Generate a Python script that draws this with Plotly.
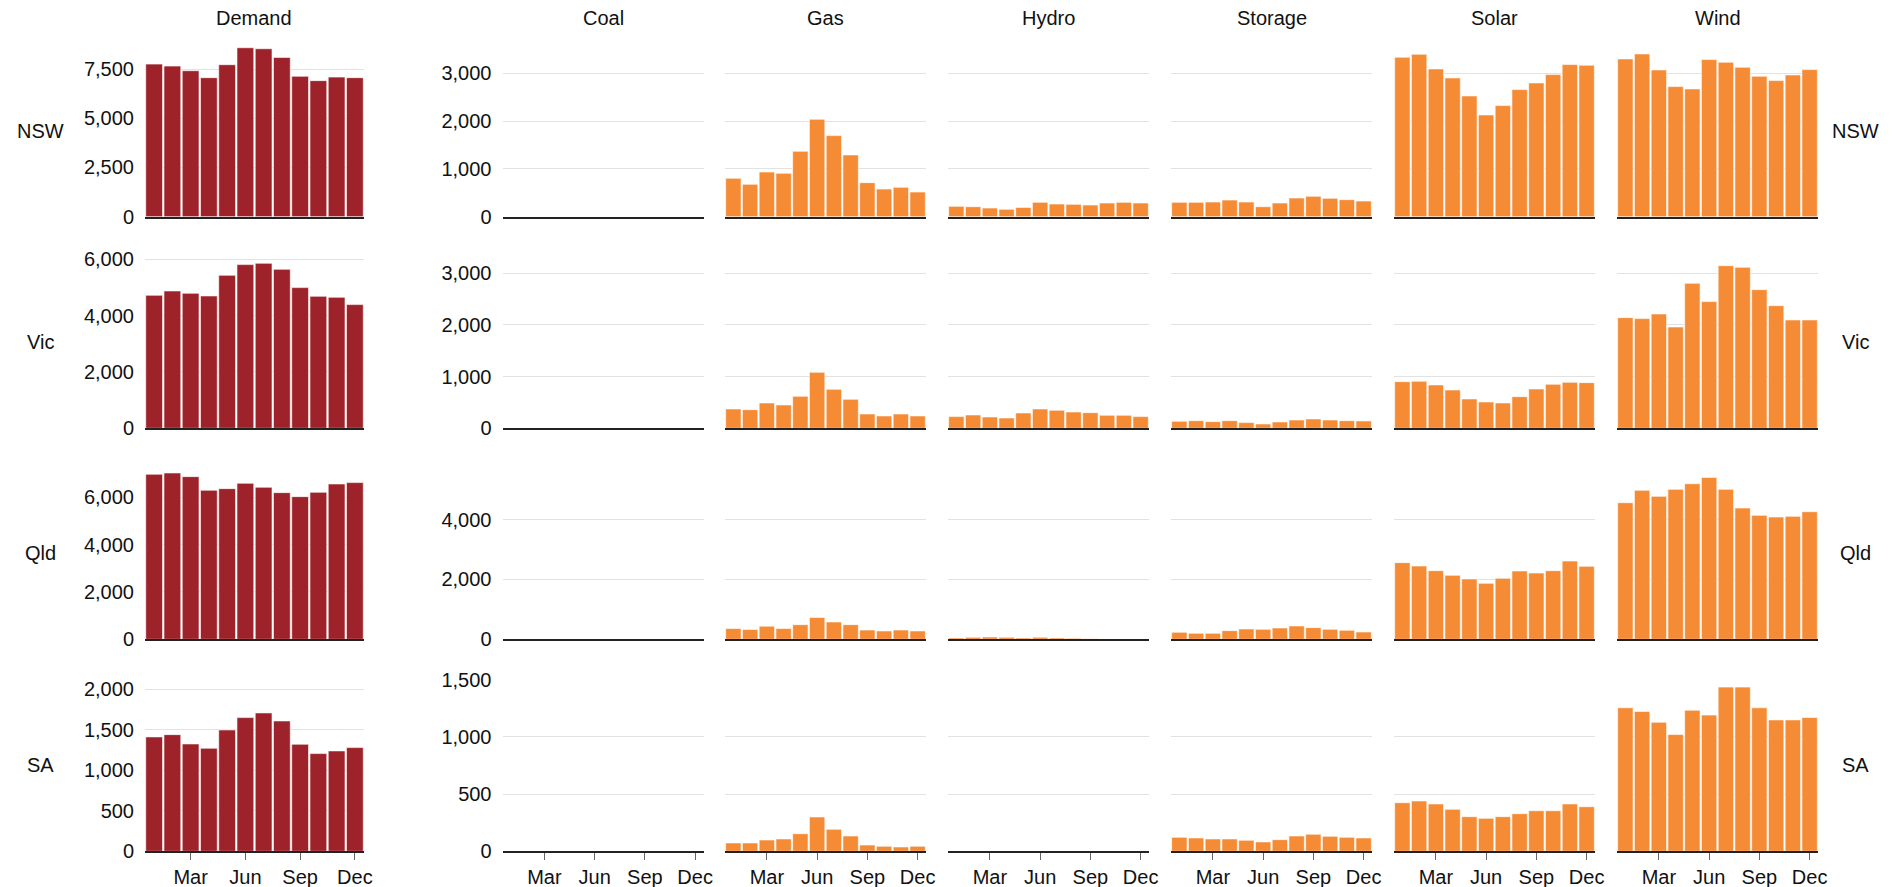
import plotly.graph_objects as go

months = ["Jan", "Feb", "Mar", "Apr", "May", "Jun", "Jul", "Aug", "Sep", "Oct", "Nov", "Dec"]
month_ticks = ["Mar", "Jun", "Sep", "Dec"]
regions = ["NSW", "Vic", "Qld", "SA"]
columns = ["Demand", "Coal", "Gas", "Hydro", "Storage", "Solar", "Wind"]

# ---- NSW ----
nsw_demand = [7750, 7650, 7415, 7060, 7720, 8580, 8530, 8090, 7130, 6910, 7090, 7060]
nsw_coal = [0] * 12
nsw_gas = [803, 677, 935, 907, 1368, 2038, 1696, 1291, 712, 579, 614, 516]
nsw_hydro = [216, 209, 181, 154, 195, 300, 265, 258, 244, 286, 300, 286]
nsw_storage = [300, 300, 307, 349, 307, 209, 286, 391, 426, 384, 356, 328]
nsw_solar = [3336, 3398, 3091, 2903, 2526, 2128, 2324, 2659, 2798, 2973, 3182, 3168]
nsw_wind = [3301, 3405, 3070, 2722, 2673, 3287, 3231, 3126, 2938, 2847, 2966, 3077]

# ---- Vic ----
vic_demand = [4722, 4876, 4793, 4698, 5432, 5811, 5858, 5645, 4994, 4686, 4651, 4391]
vic_coal = [0] * 12
vic_gas = [374, 361, 490, 452, 619, 1084, 755, 561, 277, 239, 277, 239]
vic_hydro = [226, 258, 219, 200, 297, 374, 348, 316, 303, 252, 252, 226]
vic_storage = [135, 148, 129, 148, 110, 84, 123, 161, 181, 161, 148, 142]
vic_solar = [903, 910, 839, 742, 568, 510, 490, 613, 761, 852, 890, 884]
vic_wind = [2142, 2123, 2213, 1961, 2806, 2452, 3148, 3116, 2684, 2374, 2097, 2097]

# ---- Qld ----
qld_demand = [6972, 7028, 6873, 6296, 6366, 6592, 6423, 6197, 6028, 6211, 6563, 6620]
qld_coal = [0] * 12
qld_gas = [360, 330, 440, 360, 490, 730, 580, 490, 310, 280, 310, 280]
qld_hydro = [45, 67, 78, 67, 45, 67, 45, 33, 22, 10, 10, 10]
qld_storage = [234, 201, 201, 290, 345, 334, 379, 446, 390, 334, 301, 245]
qld_solar = [2563, 2451, 2295, 2139, 2017, 1872, 2039, 2284, 2217, 2295, 2618, 2440]
qld_wind = [4568, 4981, 4780, 5014, 5203, 5415, 5014, 4390, 4145, 4089, 4111, 4267]

# ---- SA ----
sa_demand = [1412, 1440, 1325, 1272, 1498, 1650, 1708, 1609, 1321, 1206, 1239, 1280]
sa_coal = [0] * 12
sa_gas = [73, 73, 99, 108, 154, 300, 192, 134, 55, 44, 38, 44]
sa_hydro = [0] * 12
sa_storage = [122, 117, 108, 108, 96, 82, 102, 134, 149, 131, 122, 117]
sa_solar = [425, 440, 414, 367, 303, 288, 303, 329, 355, 355, 414, 390]
sa_wind = [1255, 1223, 1128, 1021, 1234, 1191, 1436, 1436, 1255, 1149, 1149, 1170]

data = {
    "NSW": [nsw_demand, nsw_coal, nsw_gas, nsw_hydro, nsw_storage, nsw_solar, nsw_wind],
    "Vic": [vic_demand, vic_coal, vic_gas, vic_hydro, vic_storage, vic_solar, vic_wind],
    "Qld": [qld_demand, qld_coal, qld_gas, qld_hydro, qld_storage, qld_solar, qld_wind],
    "SA": [sa_demand, sa_coal, sa_gas, sa_hydro, sa_storage, sa_solar, sa_wind],
}

# axis settings per row
demand_range = [8735, 6106, 7267, 2123]
demand_dtick = [2500, 2000, 2000, 500]
gen_range = [3598, 3329, 5752, 1504]
gen_dtick = [1000, 1000, 2000, 500]

W, H = 1899, 887
# panel positions in page pixels
col_px = [(145, 364), (502.5, 703.5), (725, 926), (948, 1149),
          (1171, 1372), (1394, 1595), (1617, 1818)]
row_px = [(44.7, 216.7), (256.3, 428.3), (467.3, 639.3), (679.3, 851.3)]

DEMAND_COLOR = "#9e2229"
GEN_COLOR = "#f68b35"
FONT = "Liberation Sans, Arial, sans-serif"


def px_x(v):
    return v / W


def px_y(v):
    return 1 - v / H


fig = go.Figure()
layout = {}
for r, reg in enumerate(regions):
    for c, col in enumerate(columns):
        n = r * 7 + c + 1
        xs = "" if n == 1 else str(n)
        fig.add_trace(go.Bar(
            x=months, y=data[reg][c], xaxis="x" + xs, yaxis="y" + xs,
            marker=dict(color=DEMAND_COLOR if c == 0 else GEN_COLOR,
                        line=dict(color="rgba(255,255,255,0.6)", width=1)),
            showlegend=False, hoverinfo="x+y",
        ))
        x0, x1 = col_px[c]
        y0, y1 = row_px[r]
        bottom = r == 3
        layout["xaxis" + xs] = dict(
            domain=[px_x(x0), px_x(x1)], anchor="y" + xs,
            type="category", categoryorder="array", categoryarray=months,
            range=[-0.5, 11.5], automargin=False,
            showgrid=False, zeroline=False,
            showline=True, linecolor="#222", linewidth=1.5,
            tickmode="array", tickvals=month_ticks,
            showticklabels=bottom,
            ticks="outside" if bottom else "", ticklen=7, tickcolor="#666", tickwidth=1,
            tickfont=dict(family=FONT, size=20, color="#111"),
            fixedrange=True,
        )
        layout["yaxis" + xs] = dict(
            domain=[px_y(y1), px_y(y0)], anchor="x" + xs,
            range=[0, demand_range[r] if c == 0 else gen_range[r]],
            dtick=demand_dtick[r] if c == 0 else gen_dtick[r],
            tick0=0, automargin=False,
            showgrid=True, gridcolor="#e2e2e2", gridwidth=1,
            zeroline=False, showline=False,
            showticklabels=(c <= 1), ticks="", ticklabelstandoff=10,
            tickformat=",d",
            tickfont=dict(family=FONT, size=20, color="#111"),
            fixedrange=True,
        )

annotations = []
for c, col in enumerate(columns):
    x0, x1 = col_px[c]
    annotations.append(dict(
        text=col, x=px_x((x0 + x1) / 2), y=px_y(18), xref="paper", yref="paper",
        xanchor="center", yanchor="middle", showarrow=False,
        font=dict(family=FONT, size=20, color="#111")))
for r, reg in enumerate(regions):
    y0, y1 = row_px[r]
    yc = px_y((y0 + y1) / 2)
    for xc in (40, 1855):
        annotations.append(dict(
            text=reg, x=px_x(xc), y=yc, xref="paper", yref="paper",
            xanchor="center", yanchor="middle", showarrow=False,
            font=dict(family=FONT, size=20, color="#111")))

fig.update_layout(
    template="none",
    width=W, height=H, autosize=False,
    margin=dict(l=0, r=0, t=0, b=0, autoexpand=False),
    paper_bgcolor="white", plot_bgcolor="white",
    bargap=0.08,
    showlegend=False,
    annotations=annotations,
    font=dict(family=FONT, size=20, color="#111"),
    **layout,
)

fig.write_html("out.html", config={"displayModeBar": False},
               post_script="document.body.style.margin='0';document.body.style.overflow='hidden';")
